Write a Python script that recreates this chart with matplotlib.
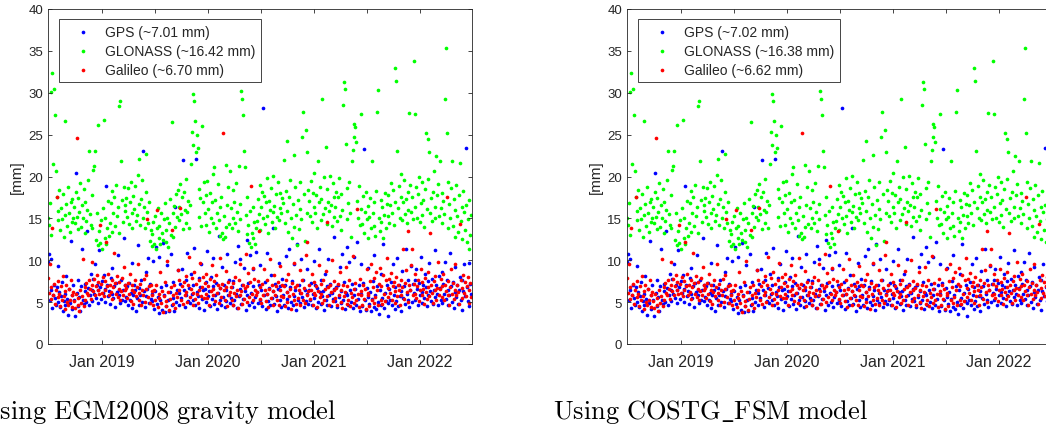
import numpy as np
import matplotlib
matplotlib.use('Agg')
import matplotlib.pyplot as plt
import matplotlib.dates as mdates

plt.rcParams['font.family'] = ['Liberation Sans', 'DejaVu Sans']
plt.rcParams['mathtext.fontset'] = 'cm'

# daily-ish residual RMS [mm] (one value every 3 days from 2018-06-29)
gps = [
    9.8, 10.7, 5.2, 6.4, 10.1, 4.3, 5.9, 7.1, 5.5, 4.6, 6.8, 5.0, 9.3, 6.2, 4.4, 5.7, 7.4, 3.9, 5.1, 6.0, 4.7, 8.1, 5.4, 3.5, 6.6, 4.9, 12.3, 5.8, 4.2, 7.0,
    5.3, 3.4, 20.4, 6.1, 4.5, 7.6, 5.6, 4.0, 6.9, 11.4, 5.2, 4.8, 7.2, 6.3, 5.0, 13.5, 6.7, 4.6, 5.9, 8.3, 6.4, 5.1, 7.8, 6.0, 9.6, 5.5, 7.0, 4.9, 6.5, 11.2,
    6.8, 5.4, 7.5, 6.1, 8.2, 5.0, 6.6, 18.9, 7.1, 5.7, 6.3, 4.8, 7.9, 6.0, 9.1, 5.5, 6.9, 4.4, 7.3, 6.2, 10.6, 5.8, 6.5, 4.9, 7.6, 5.3, 6.4, 12.7, 5.1, 7.0,
    5.6, 6.9, 4.7, 7.3, 5.2, 6.1, 9.7, 4.3, 5.8, 7.0, 6.4, 3.9, 5.5, 11.8, 6.7, 4.6, 5.9, 7.7, 5.0, 23.0, 6.3, 4.4, 8.6, 5.7, 6.6, 10.3, 4.9, 7.2, 5.4, 6.0,
    5.1, 9.9, 4.2, 6.3, 11.6, 4.8, 5.6, 3.7, 10.4, 5.3, 6.8, 4.1, 12.1, 5.9, 3.8, 7.1, 4.5, 9.4, 5.2, 3.9, 6.2, 10.8, 4.6, 5.5, 7.4, 4.0, 16.4, 5.0, 6.5, 8.8,
    6.1, 4.7, 7.2, 5.5, 9.0, 22.0, 6.4, 4.4, 5.8, 7.6, 10.9, 5.1, 6.7, 4.9, 8.3, 6.0, 5.3, 7.1, 11.5, 4.6, 22.1, 6.2, 5.7, 7.9, 4.3, 6.8, 9.5, 5.4, 6.5, 4.1,
    6.6, 5.0, 7.4, 11.1, 5.7, 6.3, 4.5, 8.0, 5.4, 10.3, 6.9, 4.8, 5.9, 7.3, 4.2, 6.1, 12.9, 5.2, 6.7, 4.7, 9.2, 5.6, 7.0, 4.4, 6.4, 5.1, 10.7, 5.8, 7.7, 4.9,
    5.5, 6.8, 4.6, 7.5, 5.2, 9.8, 6.0, 4.3, 11.7, 5.7, 6.6, 10.2, 4.8, 7.1, 5.4, 9.1, 6.3, 4.1, 12.4, 5.9, 7.3, 4.7, 10.6, 6.1, 5.0, 8.9, 6.9, 4.4, 5.6, 11.0,
    6.2, 4.9, 7.0, 5.3, 9.4, 6.5, 4.5, 28.2, 5.8, 7.4, 4.2, 6.0, 10.9, 5.1, 6.7, 4.6, 8.2, 5.5, 6.3, 13.8, 4.8, 7.2, 5.7, 4.0, 6.6, 9.7, 5.2, 6.9, 4.4, 7.8,
    5.9, 4.6, 7.1, 10.5, 5.4, 6.2, 4.3, 11.3, 6.8, 5.0, 7.5, 4.7, 9.6, 5.7, 6.4, 4.1, 12.0, 5.3, 7.0, 4.9, 6.1, 10.1, 5.6, 7.7, 4.4, 6.5, 5.1, 9.0, 6.0, 4.8,
    6.4, 5.2, 7.3, 4.6, 6.0, 9.9, 5.5, 7.1, 4.3, 6.7, 5.0, 11.4, 6.2, 4.8, 7.6, 5.7, 6.3, 4.1, 8.4, 5.3, 6.9, 4.7, 10.2, 5.9, 7.2, 4.5, 6.1, 5.4, 12.8, 6.6,
    5.1, 6.8, 4.4, 7.0, 5.6, 9.2, 4.9, 6.3, 10.8, 5.3, 7.4, 4.2, 6.1, 11.6, 5.8, 4.7, 9.8, 6.5, 5.0, 7.2, 4.3, 10.4, 5.9, 6.6, 4.6, 12.2, 5.4, 7.1, 4.0, 9.5,
    6.0, 4.5, 7.3, 23.3, 5.2, 4.1, 6.7, 5.6, 9.1, 4.8, 6.2, 3.9, 5.4, 7.5, 4.4, 10.6, 5.8, 4.2, 6.9, 5.0, 3.6, 6.4, 8.3, 4.7, 5.5, 11.9, 4.3, 6.1, 5.1, 7.0,
    4.9, 3.4, 6.6, 5.3, 7.4, 4.6, 9.6, 5.9, 4.2, 6.8, 5.1, 10.3, 4.5, 7.1, 5.7, 6.3, 4.0, 8.7, 5.5, 6.9, 4.8, 11.4, 6.0, 5.2, 7.6, 4.4, 6.5, 9.3, 5.0, 7.2,
    6.1, 7.7, 5.3, 9.0, 6.6, 4.7, 7.3, 5.8, 10.4, 6.2, 4.9, 7.0, 5.5, 8.4, 6.8, 4.5, 7.5, 5.9, 9.7, 6.3, 5.1, 7.8, 4.8, 6.5, 11.2, 5.6, 7.1, 6.0, 4.6, 8.1,
    6.7, 5.2, 8.6, 4.9, 7.2, 6.0, 9.8, 5.4, 7.6, 4.6, 6.4, 5.8, 10.9, 6.9, 5.0, 7.4, 4.3, 6.2, 9.2, 5.6, 7.0, 4.8, 6.5, 8.0, 5.3, 7.7, 4.1, 6.3, 9.5, 5.7,
    23.4, 6.8, 5.1, 9.7, 4.5, 7.2, 6.0,
]

glonass = [
    15.1, 14.2, 16.8, 13.0, 30.1, 32.4, 21.5, 30.4, 27.3, 20.7, 17.6, 14.8, 15.9, 18.4, 13.6, 16.2, 14.9, 17.9, 12.8, 26.6, 15.4, 16.7, 14.1, 18.8, 15.7, 13.4, 16.9, 14.6, 17.3, 15.0,
    16.3, 14.4, 18.1, 15.2, 13.7, 17.4, 15.8, 19.2, 14.0, 16.6, 15.1, 18.5, 13.3, 17.0, 14.7, 16.0, 19.6, 23.1, 15.5, 14.2, 17.8, 13.9, 20.8, 21.2, 23.1, 12.4, 15.6, 11.8, 26.2, 13.5,
    12.1, 14.8, 11.3, 16.2, 26.7, 12.6, 15.0, 11.9, 13.8, 17.1, 12.9, 14.5, 16.8, 18.3, 13.4, 15.7, 17.6, 14.1, 19.0, 15.3, 16.4, 13.2, 28.4, 29.0, 21.8, 17.2, 14.6, 18.7, 15.9, 16.6,
    17.4, 15.2, 18.6, 14.3, 16.9, 19.3, 15.6, 13.8, 17.7, 16.1, 18.9, 14.7, 15.4, 20.2, 16.7, 22.1, 14.2, 17.3, 19.6, 15.1, 16.4, 13.9, 22.7, 18.1, 15.8, 14.5, 17.0, 12.3, 13.6, 11.7,
    13.1, 14.6, 12.0, 15.3, 11.4, 13.8, 16.2, 12.7, 14.1, 11.9, 15.7, 13.3, 12.4, 14.9, 16.8, 12.2, 13.6, 15.0, 11.6, 14.4, 17.3, 13.0, 26.5, 15.6, 12.8, 16.5, 14.0, 17.9, 15.2, 18.4,
    16.3, 14.8, 19.1, 15.5, 17.6, 13.7, 18.2, 16.0, 14.4, 19.7, 15.8, 17.1, 13.9, 16.6, 21.5, 25.3, 29.8, 23.8, 29.0, 26.6, 22.9, 25.0, 23.4, 18.5, 15.2, 17.4, 14.1, 26.0, 16.9, 19.4,
    15.6, 17.8, 14.2, 19.5, 16.1, 13.4, 18.0, 15.0, 16.9, 14.5, 20.3, 21.1, 17.2, 13.8, 15.7, 19.1, 14.8, 16.4, 12.9, 17.5, 13.2, 12.5, 15.3, 12.8, 14.0, 21.4, 16.6, 18.7, 14.3, 20.6,
    16.2, 13.9, 18.4, 15.1, 17.0, 14.4, 19.2, 15.8, 13.5, 21.3, 16.7, 14.9, 30.2, 29.2, 27.3, 23.1, 21.1, 15.4, 17.6, 13.1, 14.2, 12.1, 15.9, 11.6, 13.3, 16.3, 12.7, 14.6, 11.9, 13.8,
    14.7, 17.3, 15.5, 19.0, 13.6, 16.4, 18.2, 15.0, 17.7, 14.3, 16.9, 19.8, 15.3, 13.2, 17.1, 16.0, 18.6, 14.6, 15.8, 20.1, 16.5, 13.9, 17.9, 15.2, 19.4, 14.8, 16.2, 18.0, 15.6, 17.4,
    16.8, 22.0, 14.5, 18.3, 15.9, 24.2, 13.4, 17.5, 19.6, 15.1, 12.6, 16.7, 22.6, 14.0, 18.8, 15.4, 11.8, 17.2, 13.7, 19.3, 16.1, 14.9, 24.7, 27.7, 17.9, 12.3, 25.5, 22.9, 15.7, 18.4,
    17.1, 15.3, 19.5, 14.6, 18.0, 16.4, 20.4, 15.7, 17.8, 13.9, 21.8, 16.9, 18.7, 14.8, 17.3, 29.2, 15.5, 19.9, 16.2, 23.5, 14.3, 18.5, 17.0, 15.9, 20.1, 16.6, 14.1, 19.2, 17.6, 15.2,
    16.4, 18.2, 14.7, 17.5, 19.8, 15.3, 13.6, 17.9, 16.0, 28.5, 31.3, 30.5, 23.9, 18.6, 14.9, 16.8, 19.4, 15.6, 12.8, 21.9, 23.2, 24.7, 26.3, 25.9, 24.1, 17.1, 15.0, 18.9, 14.2, 27.5,
    16.1, 14.3, 17.7, 13.2, 15.8, 18.1, 14.9, 12.7, 16.5, 15.2, 17.4, 13.8, 21.8, 15.6, 14.1, 16.9, 12.9, 18.3, 27.7, 30.3, 15.0, 13.5, 17.2, 14.6, 16.3, 12.6, 15.4, 18.0, 13.9, 16.7,
    15.3, 17.8, 14.5, 16.6, 19.2, 15.7, 18.4, 14.2, 17.0, 32.9, 31.4, 23.0, 16.2, 18.9, 15.0, 17.5, 20.3, 14.8, 16.9, 19.6, 15.5, 17.3, 14.4, 18.1, 16.0, 27.6, 19.0, 15.8, 17.6, 14.9,
    33.8, 27.5, 16.3, 18.7, 15.1, 17.9, 20.0, 14.6, 16.8, 19.3, 15.4, 17.2, 14.0, 18.5, 25.2, 16.1, 19.7, 24.5, 22.9, 15.6, 17.4, 14.7, 18.2, 20.6, 16.4, 15.0, 22.4, 17.8, 19.1, 15.3,
    21.9, 16.2, 18.0, 14.4, 17.1, 15.5, 29.2, 35.4, 25.2, 19.4, 13.9, 16.7, 15.0, 18.6, 21.9, 14.1, 17.3, 12.8, 16.0, 19.0, 15.3, 13.4, 17.8, 21.6, 14.7, 16.4, 12.5, 18.3, 15.8, 13.6,
    16.6, 12.2, 14.9, 11.4, 17.2, 13.0, 15.4,
]

galileo = [
    7.9, 6.1, 9.6, 5.4, 6.8, 13.8, 5.9, 7.2, 4.8, 6.5, 17.5, 5.6, 7.5, 6.0, 4.5, 6.9, 5.2, 8.1, 5.7, 4.2, 6.3, 7.0, 5.0, 4.6, 6.6, 5.3, 7.7, 4.4, 5.8, 6.2,
    5.1, 4.3, 6.0, 24.6, 4.7, 5.5, 3.9, 6.4, 4.9, 5.7, 10.2, 4.5, 6.8, 5.3, 7.3, 6.1, 5.8, 7.6, 6.6, 5.4, 7.1, 9.8, 6.3, 7.8, 5.9, 6.9, 8.2, 6.5, 7.4, 6.0,
    14.2, 7.2, 6.1, 8.0, 5.7, 7.5, 6.4, 12.2, 6.9, 8.3, 5.9, 7.0, 6.2, 7.7, 5.4, 6.8, 10.9, 7.3, 6.0, 8.1, 5.6, 6.6, 7.4, 5.2, 6.3, 7.9, 5.8, 9.2, 6.5, 7.1,
    6.7, 5.5, 7.3, 6.0, 8.4, 5.1, 6.5, 7.0, 4.8, 6.2, 7.6, 5.7, 6.8, 9.5, 5.3, 6.1, 7.2, 4.6, 6.4, 5.9, 7.8, 5.0, 6.6, 8.2, 14.9, 5.6, 6.9, 4.9, 7.1, 6.3,
    5.8, 4.7, 6.5, 5.2, 7.1, 16.0, 4.4, 6.0, 5.5, 8.6, 4.9, 6.3, 3.8, 5.7, 7.4, 4.5, 5.1, 9.9, 6.2, 4.1, 5.4, 6.8, 13.6, 4.8, 5.9, 7.0, 4.3, 6.1, 5.6, 8.8,
    6.4, 7.7, 16.2, 5.3, 6.9, 4.8, 7.4, 5.9, 8.1, 6.2, 5.0, 7.0, 10.4, 5.6, 6.6, 7.9, 4.6, 6.1, 8.6, 5.4, 7.2, 6.0, 4.9, 7.6, 6.5, 9.7, 5.7, 6.8, 8.0, 5.5,
    7.3, 6.0, 8.4, 5.5, 6.9, 4.7, 7.8, 6.3, 9.4, 5.8, 6.6, 7.5, 5.1, 8.2, 6.1, 7.0, 4.9, 6.7, 10.3, 5.6, 7.2, 25.2, 6.4, 5.3, 8.7, 6.8, 4.5, 7.4, 5.9, 6.2,
    6.8, 5.2, 7.3, 4.6, 6.1, 8.0, 5.7, 6.5, 4.3, 7.6, 5.9, 9.6, 6.3, 4.8, 7.1, 5.4, 6.7, 10.8, 5.0, 6.9, 8.5, 5.6, 7.4, 18.9, 6.0, 9.1, 5.3, 7.8, 6.4, 5.8,
    6.2, 7.5, 13.5, 5.4, 6.8, 4.9, 7.2, 5.8, 8.9, 6.4, 5.1, 7.7, 6.0, 4.4, 6.6, 10.1, 5.5, 7.0, 6.3, 4.7, 8.2, 5.9, 6.9, 5.2, 7.4, 4.6, 6.5, 9.3, 5.7, 7.1,
    5.6, 6.9, 4.5, 7.6, 6.2, 5.0, 8.4, 5.7, 6.6, 4.2, 7.3, 6.0, 5.3, 9.7, 6.8, 4.8, 7.0, 5.5, 6.4, 8.8, 4.6, 6.1, 7.7, 5.2, 6.7, 4.9, 10.6, 5.9, 12.2, 6.3,
    7.0, 5.4, 6.5, 8.3, 4.7, 6.1, 7.4, 5.8, 6.9, 4.4, 6.3, 9.4, 5.6, 7.2, 6.0, 4.9, 7.7, 5.3, 6.6, 8.7, 14.6, 5.7, 6.8, 4.6, 7.1, 6.2, 10.0, 5.1, 7.5, 6.4,
    5.5, 6.7, 4.6, 7.2, 5.9, 8.6, 5.0, 6.4, 4.3, 7.0, 5.7, 6.2, 9.2, 4.8, 6.9, 5.3, 7.6, 4.5, 6.1, 5.6, 10.5, 6.6, 4.9, 7.3, 5.2, 16.1, 6.0, 4.4, 7.8, 5.8,
    6.3, 4.7, 7.1, 5.4, 6.6, 4.2, 8.9, 5.8, 6.1, 4.5, 7.5, 9.6, 5.2, 6.8, 4.9, 7.9, 5.6, 8.6, 6.4, 4.6, 7.2, 9.1, 5.3, 6.9, 4.8, 8.2, 6.0, 5.1, 7.7, 10.3,
    6.7, 5.6, 7.8, 6.1, 8.5, 5.2, 6.9, 7.4, 4.9, 6.3, 8.0, 5.7, 7.1, 6.5, 4.6, 7.6, 5.9, 6.8, 11.3, 5.4, 7.3, 8.8, 6.2, 13.5, 5.0, 7.0, 6.4, 9.4, 11.3, 5.8,
    7.2, 6.0, 8.3, 5.5, 6.9, 7.7, 5.1, 6.4, 9.0, 5.8, 7.4, 6.6, 4.8, 7.9, 6.2, 5.4, 8.6, 6.8, 5.7, 13.3, 7.0, 6.1, 4.9, 7.5, 6.5, 8.1, 5.3, 6.7, 9.8, 5.9,
    6.6, 7.8, 5.6, 6.9, 8.4, 5.2, 7.1, 6.3, 17.6, 5.9, 7.5, 4.7, 6.8, 8.9, 6.0, 7.3, 5.4, 6.5, 9.5, 5.8, 7.0, 6.2, 4.8, 14.3, 7.6, 5.5, 6.7, 8.2, 6.1, 7.4,
    5.7, 6.9, 8.0, 4.9, 6.4, 7.3, 5.6,
]

labels_egm = ['GPS (~7.01 mm)', 'GLONASS (~16.42 mm)', 'Galileo (~6.70 mm)']
labels_fsm = ['GPS (~7.02 mm)', 'GLONASS (~16.38 mm)', 'Galileo (~6.62 mm)']
captions = [r'$\mathrm{Using\ EGM2008\ gravity\ model}$', r'$\mathrm{Using\ COSTG\_FSM\ model}$']

start = np.datetime64('2018-06-29')
tick_dates = ['2019-01-01', '2019-07-01', '2020-01-01', '2020-07-01',
              '2021-01-01', '2021-07-01', '2022-01-01']
tick_labels = ['Jan 2019', '', 'Jan 2020', '', 'Jan 2021', '', 'Jan 2022']

W, H = 1046, 431
fig = plt.figure(figsize=(W / 100, H / 100), dpi=100)
dark = '#262626'


def panel(x0, labels):
    ax = fig.add_axes([x0 / W, 86 / H, 424 / W, 335 / H])
    for vals, col, lab in zip([gps, glonass, galileo], ['#0000ff', '#00ff00', '#ff0000'], labels):
        t = start + np.arange(len(vals)) * np.timedelta64(3, 'D')
        ax.scatter(mdates.date2num(t), vals, s=7, c=col, marker='o', linewidths=0, label=lab)
    ax.set_xlim(mdates.date2num(np.datetime64('2018-06-29')), mdates.date2num(np.datetime64('2022-06-29')))
    ax.set_ylim(0, 40)
    ax.set_yticks(range(0, 41, 5))
    ax.set_xticks(mdates.date2num(np.array(tick_dates, dtype='datetime64[D]')))
    ax.set_xticklabels(tick_labels)
    ax.tick_params(direction='in', top=True, right=True, length=3, width=0.6, colors=dark)
    ax.tick_params(axis='x', labelsize=11.5, pad=7)
    ax.tick_params(axis='y', labelsize=9.5, pad=3.5)
    for s in ax.spines.values():
        s.set_color(dark)
        s.set_linewidth(0.6)
    ax.set_ylabel('[mm]', fontsize=11, labelpad=3, color=dark)
    leg = ax.legend(loc='upper left', bbox_to_anchor=(11 / 424, 1 - 10 / 335), borderaxespad=0,
                    fontsize=10, fancybox=False, edgecolor=dark, framealpha=1, borderpad=0.4,
                    labelspacing=0.37, handlelength=2.65, handletextpad=0.26, scatterpoints=1)
    leg.get_frame().set_linewidth(0.6)
    for txt in leg.get_texts():
        txt.set_color(dark)
    return ax


panel(48, labels_egm)
panel(627, labels_fsm)

fig.text(337 / W, 12 / H, captions[0], ha='right', va='baseline', fontsize=19)
fig.text(553 / W, 12 / H, captions[1], ha='left', va='baseline', fontsize=19)

fig.savefig('out.png', dpi=100)
